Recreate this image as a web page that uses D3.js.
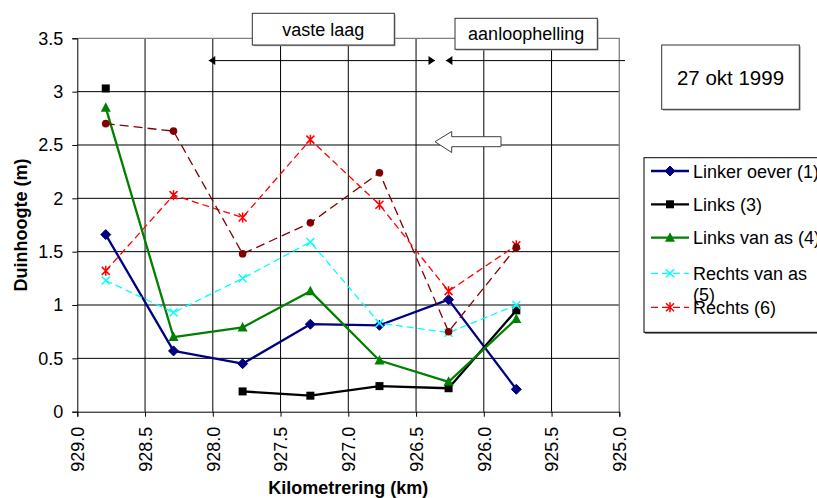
<!DOCTYPE html>
<html>
<head>
<meta charset="utf-8">
<script src="https://cdn.jsdelivr.net/npm/d3@7"></script>
<style>
  html, body { margin: 0; padding: 0; background: #fff; }
  svg { display: block; font-family: "Liberation Sans", Arial, sans-serif; }
</style>
</head>
<body>
<svg id="chart" width="817" height="498"></svg>
<script>
// Kilometrering of the measured cross sections
const kmPositions = [928.79, 928.29, 927.78, 927.28, 926.77, 926.26, 925.76];

// Duinhoogte (m) per section, one array per series
const linkerOever   = [1.66, 0.57, 0.45, 0.82, 0.81, 1.05, 0.21];
const links         = [3.03, null, 0.19, 0.15, 0.24, 0.22, 0.95];
const linksVanAs    = [2.85, 0.70, 0.79, 1.13, 0.48, 0.28, 0.87];
const rechtsVanAs   = [1.23, 0.93, 1.25, 1.59, 0.83, 0.74, 1.00];
const rechts        = [1.32, 2.03, 1.82, 2.55, 1.94, 1.13, 1.56];
const rechterOever  = [2.70, 2.63, 1.48, 1.77, 2.24, 0.75, 1.54];

const seriesNames = ["Linker oever (1)", "Links (3)", "Links van as (4)", "Rechts van as (5)", "Rechts (6)", "Rechter oever"];

// Axis ticks
const xTickValues = [929.0, 928.5, 928.0, 927.5, 927.0, 926.5, 926.0, 925.5, 925.0];
const xTickLabels = ["929.0", "928.5", "928.0", "927.5", "927.0", "926.5", "926.0", "925.5", "925.0"];
const yTickValues = [0, 0.5, 1, 1.5, 2, 2.5, 3, 3.5];
const yTickLabels = ["0", "0.5", "1", "1.5", "2", "2.5", "3", "3.5"];

// Extent of the "vaste laag" and "aanloophelling" stretches (km)
const vasteLaagRange = [928.03, 926.36];
const aanloopStart = [926.28];

const svg = d3.select("#chart");
const W = 817, H = 498;
svg.append("rect").attr("width", W).attr("height", H).attr("fill", "#fff");

const plot = { left: 77.3, right: 619.3, top: 38.3, bottom: 411.7 };
const x = d3.scaleLinear().domain([929, 925]).range([plot.left, plot.right]);
const y = d3.scaleLinear().domain([0, 3.5]).range([plot.bottom, plot.top]);

// Gridlines
const grid = svg.append("g");
grid.selectAll("line.v").data(xTickValues.slice(1, -1)).join("line")
  .attr("x1", d => x(d)).attr("x2", d => x(d))
  .attr("y1", plot.top).attr("y2", plot.bottom)
  .attr("stroke", "#000").attr("stroke-width", 1);
grid.selectAll("line.h").data(yTickValues.slice(1, -1)).join("line")
  .attr("x1", plot.left).attr("x2", plot.right)
  .attr("y1", d => y(d)).attr("y2", d => y(d))
  .attr("stroke", "#000").attr("stroke-width", 1);
// Plot area frame (top and right)
svg.append("path")
  .attr("d", `M${plot.left},${y(3.5)}H${plot.right}V${plot.bottom}`)
  .attr("fill", "none").attr("stroke", "#808080").attr("stroke-width", 1.3);

// Axes
const yAxis = svg.append("g").attr("transform", `translate(${plot.left},0)`)
  .call(d3.axisLeft(y).tickValues(yTickValues).tickSize(5).tickPadding(9)
    .tickFormat((d, i) => yTickLabels[i]));
const xAxis = svg.append("g").attr("transform", `translate(0,${plot.bottom})`)
  .call(d3.axisBottom(x).tickValues(xTickValues).tickSize(5)
    .tickFormat((d, i) => xTickLabels[i]));
[xAxis, yAxis].forEach(a => {
  a.select(".domain").attr("stroke", "#000").attr("stroke-width", 1);
  a.selectAll(".tick line").attr("stroke", "#000");
  a.selectAll("text").attr("font-size", 18).attr("fill", "#000")
    .attr("font-family", "'Liberation Sans', Arial, sans-serif");
});
xAxis.selectAll(".tick text")
  .attr("transform", "rotate(-90)")
  .attr("text-anchor", "end")
  .attr("x", -15).attr("y", 0).attr("dy", "0.35em");

// Axis titles
svg.append("text").attr("transform", "translate(21,225) rotate(-90)")
  .attr("text-anchor", "middle").attr("dy", "0.35em")
  .attr("font-size", 18).attr("font-weight", "bold").text("Duinhoogte (m)");
svg.append("text").attr("x", (plot.left + plot.right) / 2).attr("y", 494)
  .attr("text-anchor", "middle")
  .attr("font-size", 18).attr("font-weight", "bold").text("Kilometrering (km)");

// Marker shapes
function drawMarker(g, type, color) {
  switch (type) {
    case "diamond":
      g.append("path").attr("d", "M0,-5L5,0L0,5L-5,0Z").attr("fill", color).attr("stroke", color);
      break;
    case "square":
      g.append("rect").attr("x", -4).attr("y", -4).attr("width", 8).attr("height", 8).attr("fill", color);
      break;
    case "triangle":
      g.append("path").attr("d", "M0,-5.5L5,4L-5,4Z").attr("fill", color);
      break;
    case "cross":
      g.append("path").attr("d", "M-4,-4L4,4M-4,4L4,-4").attr("stroke", color).attr("stroke-width", 1.5);
      break;
    case "star":
      g.append("path").attr("d", "M-4,-4L4,4M-4,4L4,-4M0,-5L0,5").attr("stroke", color).attr("stroke-width", 1.5);
      break;
    case "circle":
      g.append("circle").attr("r", 3.8).attr("fill", color);
      break;
  }
}

const series = [
  { name: seriesNames[0], values: linkerOever,  color: "#000080", marker: "diamond",  width: 2.3, dash: null,   legend: true },
  { name: seriesNames[1], values: links,        color: "#000000", marker: "square",   width: 2.3, dash: null,   legend: true },
  { name: seriesNames[2], values: linksVanAs,   color: "#008000", marker: "triangle", width: 2.3, dash: null,   legend: true },
  { name: seriesNames[3], values: rechtsVanAs,  color: "#00FFFF", marker: "cross",    width: 1.3, dash: "7,4",  legend: true },
  { name: seriesNames[4], values: rechts,       color: "#FF0000", marker: "star",     width: 1.3, dash: "7,4",  legend: true },
  { name: seriesNames[5], values: rechterOever, color: "#800000", marker: "circle",   width: 1.3, dash: "9,5",  legend: false }
];

const line = d3.line()
  .defined(d => d.v !== null)
  .x(d => x(d.km)).y(d => y(d.v));

series.forEach(s => {
  const pts = s.values.map((v, i) => ({ km: kmPositions[i], v }));
  svg.append("path").datum(pts)
    .attr("d", line)
    .attr("fill", "none").attr("stroke", s.color).attr("stroke-width", s.width)
    .attr("stroke-dasharray", s.dash).attr("stroke-linejoin", "round");
  pts.filter(p => p.v !== null).forEach(p => {
    const g = svg.append("g").attr("transform", `translate(${x(p.km)},${y(p.v)})`);
    drawMarker(g, s.marker, s.color);
  });
});

// Legend
const lg = svg.append("g");
lg.append("rect").attr("x", 645).attr("y", 159).attr("width", 200).attr("height", 175).attr("fill", "#808080");
lg.append("rect").attr("x", 644).attr("y", 157.7).attr("width", 200).attr("height", 174.6)
  .attr("fill", "#fff").attr("stroke", "#000").attr("stroke-width", 1);
const legendRows = [171, 204.3, 237.7, 273.3, 307.3];
series.filter(s => s.legend).forEach((s, i) => {
  const yy = legendRows[i];
  lg.append("line").attr("x1", 651).attr("x2", 689).attr("y1", yy).attr("y2", yy)
    .attr("stroke", s.color).attr("stroke-width", s.width).attr("stroke-dasharray", s.dash);
  drawMarker(lg.append("g").attr("transform", `translate(670,${yy})`), s.marker, s.color);
  const t = lg.append("text").attr("x", 693).attr("y", yy + 6.5).attr("font-size", 18);
  if (i === 3) {
    t.append("tspan").text("Rechts van as");
    t.append("tspan").attr("x", 693).attr("dy", 21).text("(5)");
  } else {
    t.text(s.name);
  }
});

// Annotation: date box
svg.append("rect").attr("x", 663).attr("y", 46.3).attr("width", 137.6).attr("height", 64.3).attr("fill", "#9a9a9a");
svg.append("rect").attr("x", 661.7).attr("y", 45).attr("width", 137.6).attr("height", 64.3)
  .attr("fill", "#fff").attr("stroke", "#333").attr("stroke-width", 1);
svg.append("text").attr("x", 730.5).attr("y", 84.5).attr("text-anchor", "middle")
  .attr("font-size", 20.5).text("27 okt 1999");

// Annotation: stretch labels
function labelBox(x0, y0, w, h, label, baseline) {
  svg.append("rect").attr("x", x0 + 1.2).attr("y", y0 + 1.2).attr("width", w).attr("height", h).attr("fill", "#9a9a9a");
  svg.append("rect").attr("x", x0).attr("y", y0).attr("width", w).attr("height", h)
    .attr("fill", "#fff").attr("stroke", "#333").attr("stroke-width", 1);
  svg.append("text").attr("x", x0 + w / 2).attr("y", baseline).attr("text-anchor", "middle")
    .attr("font-size", 18).text(label);
}
labelBox(252.3, 13.3, 142, 31.7, "vaste laag", 36);
labelBox(455, 18.3, 142.3, 31, "aanloophelling", 40.3);

// Dimension arrows for the stretches
const arrowY = 60.6;
function arrowHead(tipX, dir) {
  // dir = -1 points left, +1 points right
  svg.append("path")
    .attr("d", `M${tipX},${arrowY}L${tipX - dir * 6.5},${arrowY - 4.5}L${tipX - dir * 6.5},${arrowY + 4.5}Z`)
    .attr("fill", "#000");
}
svg.append("line").attr("x1", x(vasteLaagRange[0])).attr("x2", x(vasteLaagRange[1]))
  .attr("y1", arrowY).attr("y2", arrowY).attr("stroke", "#000").attr("stroke-width", 1);
arrowHead(x(vasteLaagRange[0]), -1);
arrowHead(x(vasteLaagRange[1]), 1);
svg.append("line").attr("x1", x(aanloopStart[0])).attr("x2", 625)
  .attr("y1", arrowY).attr("y2", arrowY).attr("stroke", "#000").attr("stroke-width", 1);
arrowHead(x(aanloopStart[0]), -1);

// Block arrow indicating flow direction
svg.append("path")
  .attr("d", "M435,141.7L451.7,131.5L451.7,136.7L501,136.7L501,146.7L451.7,146.7L451.7,152.5Z")
  .attr("fill", "#fff").attr("stroke", "#404040").attr("stroke-width", 1);
</script>
</body>
</html>
